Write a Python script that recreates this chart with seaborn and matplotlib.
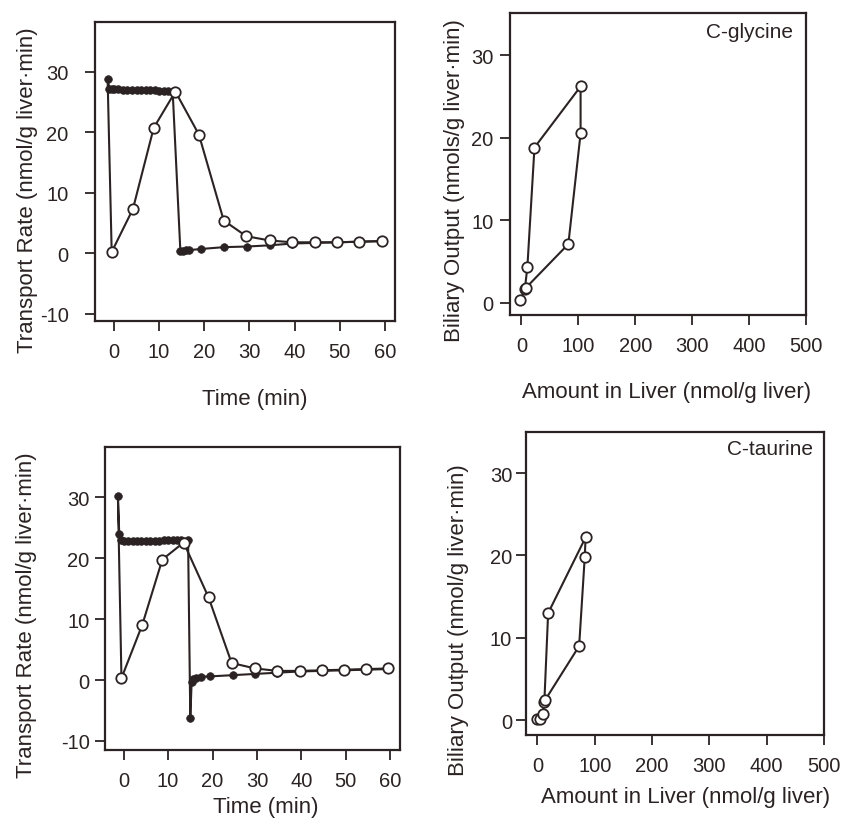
import matplotlib
matplotlib.use('Agg')
import matplotlib.pyplot as plt
import seaborn as sns

# ---- glycine conjugate: transport rate vs time ----
# filled dots (uptake), first point sits under the first open circle
gly_fill_t = [-0.5, -1.4, -1.0, -0.5, 0, 1, 2, 3, 4, 5, 6, 7, 8, 9, 10, 11, 12, 13,
              14.7, 15.3, 15.9, 16.6, 19.3, 24.4, 29.4, 34.5, 39.5, 44.5, 49.5, 54.5, 59.5]
gly_fill_v = [0.2, 28.7, 27.2, 27.2, 27.1, 27.1, 27.0, 27.0, 27.0, 27.0, 26.9, 26.9, 26.9, 26.9,
              26.8, 26.8, 26.8, 26.7, 0.4, 0.4, 0.5, 0.5, 0.7, 1.0, 1.1, 1.3, 1.6, 1.7, 1.8, 1.9, 2.0]
# open circles (biliary output)
gly_open_t = [-0.5, 4.2, 8.8, 13.6, 18.8, 24.3, 29.3, 34.5, 39.4, 44.4, 49.4, 54.3, 59.4]
gly_open_v = [0.2, 7.3, 20.7, 26.7, 19.6, 5.4, 2.8, 2.1, 1.8, 1.8, 1.8, 1.9, 2.0]

# ---- taurine conjugate: transport rate vs time ----
tau_fill_t = [-0.5, -1.3, -1.0, -0.6, 0, 1, 2, 3, 4, 5, 6, 7, 8, 9, 10, 11, 12, 13, 14.5,
              15.0, 15.3, 15.6, 16.2, 17.3, 19.5, 24.6, 29.5, 34.5, 39.5, 44.5, 49.5, 54.5, 59.5]
tau_fill_v = [0.3, 30.3, 24.0, 23.0, 22.8, 22.8, 22.8, 22.8, 22.8, 22.9, 22.9, 22.9, 22.9, 23.0,
              23.0, 23.0, 23.0, 23.0, 23.0, -6.3, -0.3, 0.2, 0.4, 0.55, 0.6, 0.8, 1.0, 1.2,
              1.4, 1.5, 1.6, 1.7, 1.8]
tau_open_t = [-0.5, 4.2, 8.7, 13.5, 19.1, 24.3, 29.6, 34.6, 39.6, 44.6, 49.6, 54.6, 59.6]
tau_open_v = [0.3, 9.1, 19.8, 22.6, 13.6, 2.8, 1.9, 1.5, 1.5, 1.6, 1.7, 1.8, 1.9]

# ---- hysteresis loops: biliary output vs amount in liver ----
gly_amount = [-2, 6, 10.5, 23, 104, 104, 82.5, 8]
gly_output = [0.3, 1.6, 4.3, 18.8, 26.2, 20.5, 7.1, 1.8]
tau_amount = [0, 5, 9, 12, 18.6, 84, 82.5, 72.7, 13]
tau_output = [0.1, 0.1, 0.7, 2.2, 13.0, 22.2, 19.8, 9.0, 2.4]

time_ticks = [0, 10, 20, 30, 40, 50, 60]
rate_ticks = [-10, 0, 10, 20, 30]
amount_ticks = [0, 100, 200, 300, 400, 500]
output_ticks = [0, 10, 20, 30]

sns.set_style('ticks')
plt.rcParams['font.family'] = ['Liberation Sans', 'DejaVu Sans']
plt.rcParams['axes.unicode_minus'] = False

INK = '#2b2323'
fig = plt.figure(figsize=(8.51, 8.29), dpi=100)


def style_axes(ax, ypad):
    for s in ax.spines.values():
        s.set_linewidth(1.6)
        s.set_color(INK)
    ax.tick_params(direction='out', length=7, width=1.3, color=INK,
                   labelsize=14.5, labelcolor=INK)
    ax.tick_params(axis='y', pad=ypad)
    ax.tick_params(axis='x', pad=8)


def time_panel(rect, ft, fv, ot, ov, ylim, xlab_xy, ylab_xy, ypad):
    ax = fig.add_axes(rect)
    sns.lineplot(x=ft, y=fv, sort=False, estimator=None, color=INK, lw=1.5,
                 marker='o', markersize=5.5, markeredgecolor=INK, markeredgewidth=0.5, ax=ax)
    sns.lineplot(x=ot, y=ov, sort=False, estimator=None, color=INK, lw=1.5,
                 marker='o', markersize=7.5, markerfacecolor='white',
                 markeredgecolor=INK, markeredgewidth=1.3, ax=ax)
    ax.set_xlim(-4.2, 62.2)
    ax.set_ylim(*ylim)
    ax.set_xticks(time_ticks)
    ax.set_yticks(rate_ticks)
    ax.set_xlabel('Time (min)', fontsize=16, color=INK)
    ax.set_ylabel('Transport Rate (nmol/g liver·min)', fontsize=16, color=INK)
    ax.xaxis.set_label_coords(*xlab_xy)
    ax.yaxis.set_label_coords(*ylab_xy)
    style_axes(ax, ypad)
    return ax


def loop_panel(rect, amt, out, tag, ylab, ylim, xlab_xy, ylab_xy, ypad, tag_xy):
    ax = fig.add_axes(rect)
    sns.lineplot(x=amt, y=out, sort=False, estimator=None, color=INK, lw=1.5,
                 marker='o', markersize=7.5, markerfacecolor='white',
                 markeredgecolor=INK, markeredgewidth=1.3, ax=ax)
    ax.set_xlim(-20, 500)
    ax.set_ylim(*ylim)
    ax.set_xticks(amount_ticks)
    ax.set_yticks(output_ticks)
    ax.set_xlabel('Amount in Liver (nmol/g liver)', fontsize=16, color=INK)
    ax.set_ylabel(ylab, fontsize=16, color=INK)
    ax.xaxis.set_label_coords(*xlab_xy)
    ax.yaxis.set_label_coords(*ylab_xy)
    ax.text(tag_xy[0], tag_xy[1], tag, transform=ax.transAxes, ha='right', va='center',
            fontsize=15, color=INK)
    style_axes(ax, ypad)
    return ax


time_panel([0.1116, 0.6116, 0.3525, 0.3607], gly_fill_t, gly_fill_v, gly_open_t, gly_open_v,
           (-11.2, 38.2), (0.533, -0.224), (-0.19, 0.44), 12)
loop_panel([0.5993, 0.6188, 0.3478, 0.3643], gly_amount, gly_output, 'C-glycine',
           'Biliary Output (nmols/g liver·min)', (-1.5, 35.1),
           (0.53, -0.219), (-0.152, 0.45), 5, (0.955, 0.94))
time_panel([0.1234, 0.0941, 0.3466, 0.3655], tau_fill_t, tau_fill_v, tau_open_t, tau_open_v,
           (-11.5, 38.3), (0.546, -0.152), (-0.23, 0.449), 4)
loop_panel([0.6181, 0.1122, 0.3502, 0.3655], tau_amount, tau_output, 'C-taurine',
           'Biliary Output (nmol/g liver·min)', (-1.8, 35.0),
           (0.534, -0.168), (-0.19, 0.383), 3, (0.963, 0.944))

fig.savefig('out.png', dpi=100, facecolor='white')
